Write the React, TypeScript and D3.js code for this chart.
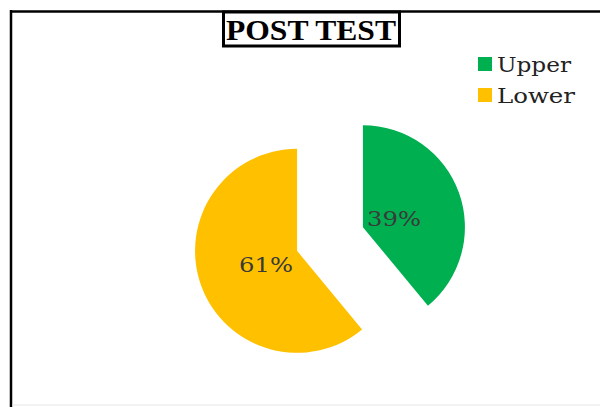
import React from "react";
import * as d3 from "d3";

const categories = ["Upper", "Lower"];
const values = [39, 61];
const colors = ["#00B050", "#FFC000"];
const title = "POST TEST";

export default function App() {
  const W = 600, H = 407;
  const cx = 330, cy = 239, r = 102, explode = 35, labelR = 33;
  const pie = d3.pie<number>().sort(null).value((d) => d);
  const arcs = pie(values);
  const arcGen = d3.arc<d3.PieArcDatum<number>>().innerRadius(0).outerRadius(r);
  return (
    <svg width={W} height={H} style={{ position: "absolute", left: 0, top: 0, background: "#fff" }}>
      <rect x={0} y={0} width={W} height={H} fill="#fff" />
      <line x1={10} y1={11.5} x2={600} y2={11.5} stroke="#000" strokeWidth={2.5} />
      <line x1={11} y1={10} x2={11} y2={407} stroke="#000" strokeWidth={2.5} />
      <line x1={12} y1={405} x2={600} y2={405} stroke="#e6e6e6" strokeWidth={1} />
      <rect x={223.5} y={12} width={176} height={34} fill="#fff" stroke="#000" strokeWidth={3} />
      <text x={311} y={40} textAnchor="middle" fontFamily="'Liberation Serif', serif" fontWeight="bold" fontSize={30} fill="#000" textLength={170} lengthAdjust="spacingAndGlyphs">{title}</text>
      {arcs.map((a, i) => {
        const mid = (a.startAngle + a.endAngle) / 2;
        const dx = Math.sin(mid) * explode, dy = -Math.cos(mid) * explode;
        const lx = Math.sin(mid) * labelR, ly = -Math.cos(mid) * labelR + 3;
        return (
          <g key={i} transform={`translate(${cx + dx},${cy + dy})`}>
            <path d={arcGen(a) || ""} fill={colors[i]} />
            <text x={lx} y={ly} textAnchor="middle" dominantBaseline="central" fontFamily="'DejaVu Serif', serif" fontSize={21} fill="#3a3a3a" textLength={54} lengthAdjust="spacingAndGlyphs">{`${values[i]}%`}</text>
          </g>
        );
      })}
      {categories.map((c, i) => (
        <g key={c} transform={`translate(478,${57 + i * 31})`}>
          <rect x={0} y={0} width={14} height={14} fill={colors[i]} />
          <text x={19} y={15} fontFamily="'DejaVu Serif', serif" fontSize={21} fill="#222" textLength={i === 0 ? 74 : 78} lengthAdjust="spacingAndGlyphs">{c}</text>
        </g>
      ))}
    </svg>
  );
}
